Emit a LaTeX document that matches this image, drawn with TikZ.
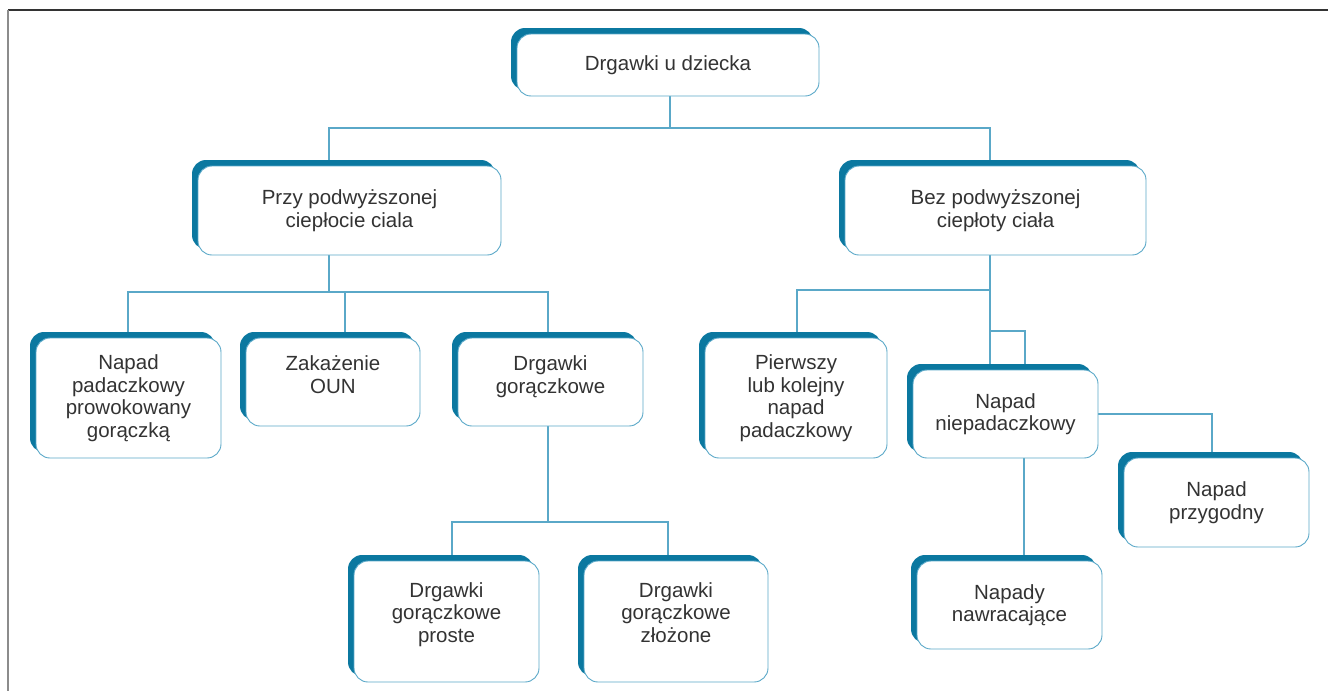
\documentclass[tikz,border=0pt]{standalone}
\usepackage{fontspec}
\setmainfont{Liberation Sans}
\usetikzlibrary{shadows,backgrounds}
\definecolor{shad}{HTML}{0B78A0}
\definecolor{edge}{HTML}{5AA8C8}
\definecolor{txt}{HTML}{333333}
\begin{document}
\begin{tikzpicture}[x=1pt,y=-1pt,
 cbox/.style={draw=edge, line width=0.9pt, fill=white, rounded corners=14pt, align=center, text=txt,
   font=\fontsize{20.5}{22.5}\selectfont, inner sep=0pt,
   general shadow={shadow xshift=-6pt, shadow yshift=6pt, fill=shad, draw=none}},
 conn/.style={draw=edge, line width=1.1pt},
 frametop/.style={draw=black!80, line width=1.5pt},
 frameleft/.style={draw=black!45, line width=2pt}]
\useasboundingbox (0,0) rectangle (1328,691);
\coordinate (f0) at (8,10);
\coordinate (f1) at (1328,10);
\coordinate (f2) at (8,691);
\draw[frametop] (f0) -- (f1);
\draw[frameleft] (f0) -- (f2);

\node[cbox, minimum width=302, minimum height=62] (top) at (668,65) {Drgawki u dziecka};
\node[cbox, minimum width=303, minimum height=89] (przy) at (349.5,210.5) {Przy podwyższonej\\ciepłocie ciala};
\node[cbox, minimum width=301, minimum height=89] (bez) at (995.5,210.5) {Bez podwyższonej\\ciepłoty ciała};
\node[cbox, minimum width=185, minimum height=120] (nap1) at (128.5,398) {Napad\\padaczkowy\\prowokowany\\gorączką};
\node[cbox, minimum width=174, minimum height=88] (zak) at (333,382) {Zakażenie\\OUN\\[-8pt]\mbox{}};
\node[cbox, minimum width=185, minimum height=88] (dg) at (550.5,382) {Drgawki\\gorączkowe\\[-8pt]\mbox{}};
\node[cbox, minimum width=182, minimum height=120] (pier) at (796,398) {Pierwszy\\lub kolejny\\napad\\padaczkowy};
\node[cbox, minimum width=185, minimum height=88] (niep) at (1005.5,414) {Napad\\niepadaczkowy};
\node[cbox, minimum width=185, minimum height=89] (przyg) at (1216.5,502.5) {Napad\\przygodny};
\node[cbox, minimum width=185, minimum height=121] (proste) at (446.5,621.5) {Drgawki\\gorączkowe\\proste\\[-4pt]\mbox{}};
\node[cbox, minimum width=184, minimum height=121] (zloz) at (676,621.5) {Drgawki\\gorączkowe\\złożone\\[-4pt]\mbox{}};
\node[cbox, minimum width=185, minimum height=88] (nawr) at (1009.5,605) {Napady\\nawracające};

\begin{pgfonlayer}{background}
\coordinate (b1) at (670,128);
\coordinate (xa) at (329,128);
\coordinate (xb) at (990,128);
\draw[conn] (top.south -| b1) -- (b1);
\draw[conn] (przy.north -| xa) -- (xa) -- (xb) -- (bez.north -| xb);

\coordinate (l1) at (329,292);
\coordinate (l1a) at (128,292);
\coordinate (l1b) at (345,292);
\coordinate (l1c) at (548,292);
\draw[conn] (przy.south -| l1) -- (l1);
\draw[conn] (nap1.north -| l1a) -- (l1a) -- (l1c) -- (dg.north -| l1c);
\draw[conn] (l1b) -- (zak.north -| l1b);

\coordinate (m) at (548,522);
\coordinate (ma) at (452,522);
\coordinate (mb) at (668,522);
\draw[conn] (dg.south -| m) -- (m);
\draw[conn] (proste.north -| ma) -- (ma) -- (mb) -- (zloz.north -| mb);

\coordinate (r) at (990,290);
\coordinate (ra) at (797,290);
\draw[conn] (bez.south -| r) -- (niep.north -| r);
\draw[conn] (pier.north -| ra) -- (ra) -- (r);
\coordinate (k1) at (990,331);
\coordinate (k2) at (1025,331);
\draw[conn] (k1) -- (k2) -- (niep.north -| k2);

\coordinate (p1) at (1212,413);
\draw[conn] (niep.east) -- (niep.east -| p1) -- (przyg.north -| p1);
\coordinate (q) at (1024,0);
\draw[conn] (niep.south -| q) -- (nawr.north -| q);
\end{pgfonlayer}
\end{tikzpicture}
\end{document}
